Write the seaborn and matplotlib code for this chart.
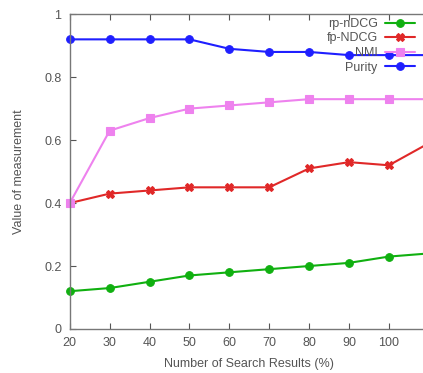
import matplotlib
matplotlib.use("Agg")
import matplotlib.pyplot as plt
import seaborn as sns
import pandas as pd

x_vals = [20, 30, 40, 50, 60, 70, 80, 90, 100, 110]
rp_ndcg = [0.12, 0.13, 0.15, 0.17, 0.18, 0.19, 0.20, 0.21, 0.23, 0.24]
fp_ndcg = [0.40, 0.43, 0.44, 0.45, 0.45, 0.45, 0.51, 0.53, 0.52, 0.59]
nmi = [0.40, 0.63, 0.67, 0.70, 0.71, 0.72, 0.73, 0.73, 0.73, 0.73]
purity = [0.92, 0.92, 0.92, 0.92, 0.89, 0.88, 0.88, 0.87, 0.87, 0.87]
series_names = ["rp-nDCG", "fp-NDCG", "NMI", "Purity"]
x_ticks = [20, 30, 40, 50, 60, 70, 80, 90, 100]
y_ticks = [0, 0.2, 0.4, 0.6, 0.8, 1]
y_tick_labels = ["0", "0.2", "0.4", "0.6", "0.8", "1"]

rows = []
for name, vals in zip(series_names, [rp_ndcg, fp_ndcg, nmi, purity]):
    for xv, yv in zip(x_vals, vals):
        rows.append({"x": xv, "y": yv, "series": name})
df = pd.DataFrame(rows)

sns.set_theme(style="white")
plt.rcParams['font.family'] = ['Liberation Sans', 'DejaVu Sans']

fig = plt.figure(figsize=(4.23, 3.73), dpi=100)
ax = fig.add_axes([0.165, 0.118, 359 / 423, 0.844])

palette = {"rp-nDCG": "#10b010", "fp-NDCG": "#e02828", "NMI": "#ee82ee", "Purity": "#1f1fff"}
markers = {"rp-nDCG": "o", "fp-NDCG": "X", "NMI": "s", "Purity": "o"}
sns.lineplot(data=df, x="x", y="y", hue="series", style="series", palette=palette,
             markers=markers, dashes=False, markersize=5.5, linewidth=1.5,
             markeredgewidth=0.8, ax=ax, clip_on=False, legend=False)
for line in ax.get_lines():
    line.set_markeredgecolor(line.get_color())

ax.set_xlim(20, 110)
ax.set_ylim(0, 1)
ax.set_xticks(x_ticks)
ax.set_xticklabels([str(t) for t in x_ticks])
ax.set_yticks(y_ticks)
ax.set_yticklabels(y_tick_labels)
gray = "#555555"
ax.tick_params(direction="in", length=4, width=0.8, colors=gray, labelsize=9,
               top=True, bottom=True, left=True, right=False, pad=6)
for s in ["left", "bottom", "top"]:
    ax.spines[s].set_color("#777777")
    ax.spines[s].set_linewidth(1.0)
ax.spines["right"].set_visible(False)
ax.set_xlabel("Number of Search Results (%)", color=gray, fontsize=9, labelpad=6)
ax.set_ylabel("Value of measurement", color=gray, fontsize=9, labelpad=14)

handles = [line for line in ax.get_lines()[:4]]
leg = fig.legend(handles, series_names, loc="upper right",
                 bbox_to_anchor=(415 / 423, 1 - 18 / 373), bbox_transform=fig.transFigure,
                 markerfirst=False, frameon=False, fontsize=9, handlelength=2.4,
                 handletextpad=0.6, labelspacing=0.2, borderaxespad=0, borderpad=0)
for t in leg.get_texts():
    t.set_color(gray)

fig.savefig("out.png", dpi=100)
